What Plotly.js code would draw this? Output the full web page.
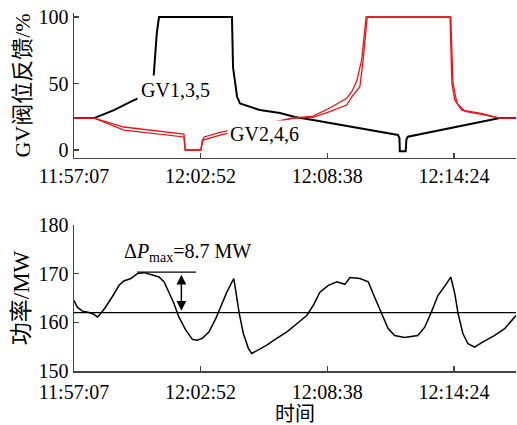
<!DOCTYPE html>
<html>
<head>
<meta charset="utf-8">
<script src="https://cdn.plot.ly/plotly-3.0.1.min.js"></script>
<style>html,body{margin:0;padding:0;background:#fff;}#chart{width:517px;height:425px;}</style>
</head>
<body>
<div id="chart"></div>
<script>
// Time axis: seconds since 11:57:07
const tickSeconds = [0, 345, 691, 1037];
const tickLabels = ['11:57:07', '12:02:52', '12:08:38', '12:14:24'];

// GV1,3,5 valve feedback (%)
const gv135T = [0, 55, 109, 145, 158, 200, 214, 218, 226, 232, 431, 434, 445, 453, 507, 562, 603, 652, 884, 888, 889, 905, 907, 911, 1162, 1206];
const gv135V = [24, 24, 30, 35.3, 36.8, 42, 46, 58, 88, 100, 100, 62, 40, 35, 30, 27.8, 24.8, 22.5, 11.3, 9, -1, -1, 8, 10, 24, 24];

// GV2,4,6 valve feedback (%), two valves
const gv246aT = [0, 55, 136, 300, 303, 346, 350, 355, 401, 597, 652, 698, 744, 758, 771, 785, 797, 1026, 1031, 1039, 1058, 1108, 1162, 1206];
const gv246aV = [24, 24, 17.3, 12, 0, 0, 7, 9.8, 13.5, 24, 25.5, 31.6, 38.9, 43.8, 51.4, 67.7, 100, 100, 50.4, 37.6, 30, 27.8, 24, 24];
const gv246bT = [0, 55, 136, 300, 304, 346, 352, 401, 597, 652, 698, 744, 758, 780, 789, 800, 1028, 1034, 1045, 1067, 1108, 1162, 1206];
const gv246bV = [24, 24, 15, 9.8, 0, 0, 7.5, 11.3, 24, 24.6, 28.8, 33.8, 40, 47.6, 67.7, 100, 100, 50.4, 35, 29, 27, 24, 24];

// Unit power (MW)
const powerT = [0, 9, 23, 41, 55, 64, 73, 86, 104, 123, 136, 155, 173, 191, 214, 232, 246, 259, 273, 286, 305, 323, 336, 350, 368, 387, 405, 417, 436, 444, 451, 462, 476, 485, 498, 526, 553, 580, 608, 635, 653, 671, 694, 717, 739, 753, 780, 803, 816, 829, 843, 857, 875, 902, 938, 957, 975, 993, 1016, 1028, 1039, 1048, 1061, 1075, 1093, 1116, 1148, 1175, 1206];
const powerV = [164.5, 163.1, 162.3, 162.0, 161.6, 161.1, 161.8, 163.1, 165.2, 167.6, 168.5, 169.0, 170.0, 170.2, 169.7, 169.3, 168.3, 166.2, 163.8, 161.1, 158.4, 156.5, 156.3, 156.7, 158.0, 160.8, 164.2, 166.2, 169.0, 165.2, 161.8, 157.7, 154.6, 153.6, 154.1, 155.3, 156.7, 158.0, 159.7, 161.4, 163.5, 166.2, 167.6, 168.3, 167.8, 169.2, 169.0, 168.3, 165.9, 163.5, 161.1, 158.7, 157.3, 156.9, 157.3, 159.0, 162.1, 165.5, 167.9, 169.3, 165.9, 161.8, 157.7, 155.6, 154.9, 156.0, 157.3, 158.7, 161.4];
const refPower = 162;
const refT = [0, 1206];

const FONT = '"Liberation Serif", "Times New Roman", "Noto Sans CJK SC", serif';
const AX = '#444';

const traces = [
  {x: gv135T, y: gv135V, xaxis: 'x', yaxis: 'y', mode: 'lines', line: {color: '#000', width: 2}},
  {x: gv246aT, y: gv246aV, xaxis: 'x', yaxis: 'y', mode: 'lines', line: {color: '#e8141b', width: 1.3}},
  {x: gv246bT, y: gv246bV, xaxis: 'x', yaxis: 'y', mode: 'lines', line: {color: '#e8141b', width: 1.3}},
  {x: refT, y: [refPower, refPower], xaxis: 'x2', yaxis: 'y2', mode: 'lines', line: {color: '#000', width: 1.3}},
  {x: powerT, y: powerV, xaxis: 'x2', yaxis: 'y2', mode: 'lines', line: {color: '#000', width: 1.5}}
];

function xa(extra) {
  return Object.assign({
    range: [0, 1206], tickvals: tickSeconds, ticktext: tickLabels,
    ticks: 'inside', ticklen: 5, tickcolor: AX, tickwidth: 1.2,
    showline: true, linecolor: AX, linewidth: 1.5,
    showgrid: false, zeroline: false, tickfont: {size: 20, family: FONT, color: '#000'}
  }, extra);
}
function ya(extra) {
  return Object.assign({
    ticks: 'inside', ticklen: 5, tickcolor: AX, tickwidth: 1.2,
    showline: true, linecolor: AX, linewidth: 1.5,
    showgrid: false, zeroline: false, tickfont: {size: 20, family: FONT, color: '#000'}
  }, extra);
}

const layout = {
  width: 517, height: 425,
  margin: {l: 74, r: 1, t: 13, b: 54},
  paper_bgcolor: '#fff', plot_bgcolor: '#fff',
  showlegend: false,
  font: {family: FONT, size: 20, color: '#000'},
  xaxis: xa({domain: [0, 1], anchor: 'y'}),
  yaxis: ya({domain: [0.595, 1], anchor: 'x', range: [-6, 103], tickvals: [0, 50, 100],
    title: {text: 'GV阀位反馈/%', font: {size: 22, family: FONT}, standoff: 2}}),
  xaxis2: xa({domain: [0, 1], anchor: 'y2', ticklabelstandoff: 2,
    title: {text: '时间', font: {size: 20, family: FONT}, standoff: 0}}),
  yaxis2: ya({domain: [0, 0.408], anchor: 'x2', range: [150, 180], tickvals: [150, 160, 170, 180],
    title: {text: '功率/MW', font: {size: 23, family: FONT}, standoff: 2}}),
  annotations: [
    {xref: 'x', yref: 'y', x: 276, y: 45, text: 'GV1,3,5', showarrow: false, bgcolor: '#fff', borderpad: 3, font: {size: 20, family: FONT}},
    {xref: 'x', yref: 'y', x: 521, y: 12, text: 'GV2,4,6', showarrow: false, bgcolor: '#fff', borderpad: 2, font: {size: 20, family: FONT}},
    {xref: 'x2', yref: 'y2', x: 311, y: 174.4, text: 'Δ<i>P</i><sub>max</sub>=8.7 MW', showarrow: false, font: {size: 20, family: FONT}},
    {xref: 'x2', yref: 'y2', x: 293, y: 162.4, axref: 'x2', ayref: 'y2', ax: 293, ay: 170.1, text: '',
      showarrow: true, arrowside: 'end+start', arrowhead: 2, startarrowhead: 2, arrowsize: 1.3, startarrowsize: 1.3, arrowwidth: 1.5, arrowcolor: '#000'}
  ],
  shapes: [
    {type: 'line', xref: 'x2', yref: 'y2', x0: 172, x1: 333, y0: 170.3, y1: 170.3, line: {color: '#000', width: 1.2}}
  ]
};

Plotly.newPlot('chart', traces, layout, {staticPlot: true, displayModeBar: false});
</script>
</body>
</html>
